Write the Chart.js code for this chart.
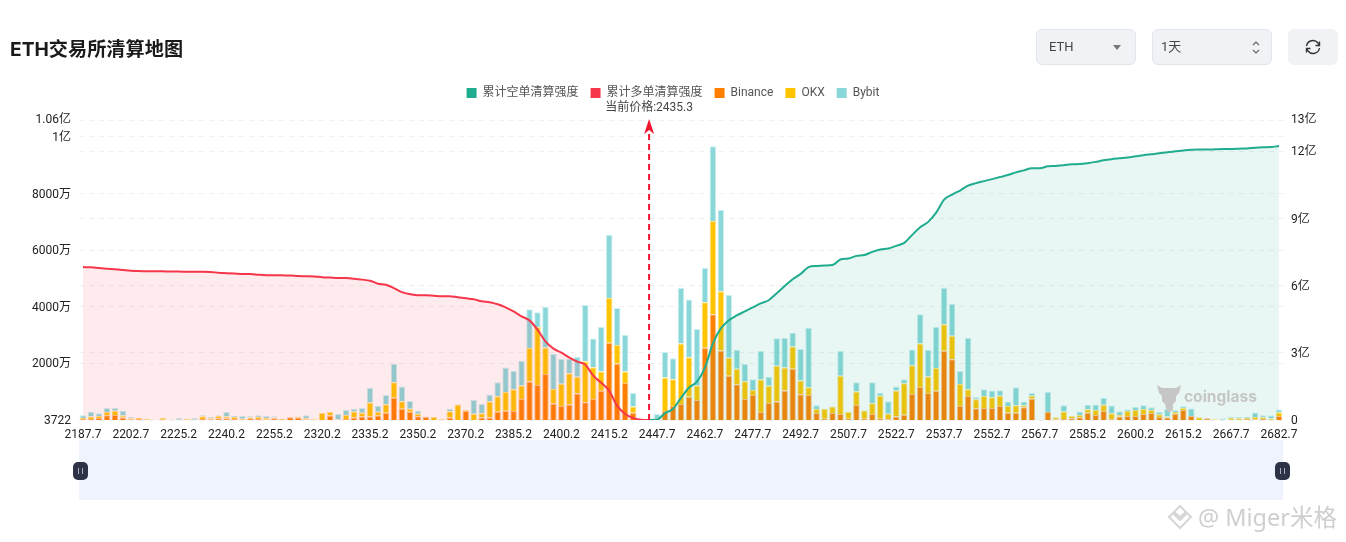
<!DOCTYPE html>
<html>
<head>
<meta charset="utf-8">
<title>ETH交易所清算地图</title>
<script src="https://cdn.jsdelivr.net/npm/chart.js@4/dist/chart.umd.min.js"></script>
<style>
  html, body { margin: 0; padding: 0; background: #fff; overflow: hidden; }
  body { width: 1346px; height: 542px; position: relative; font-family: Roboto, "Noto Sans CJK SC", sans-serif; }
  #wrap { position: absolute; left: 0; top: 0; width: 1346px; height: 542px; }
  h1 { position: absolute; left: 10px; top: 36px; margin: 0; font-size: 19.2px; line-height: 26px; font-weight: 700; color: #1a1a1a; font-family: Inter, "Noto Sans CJK SC", sans-serif; }
  .btn { position: absolute; top: 29px; height: 34px; background: #f0f2f5; border: 1px solid #dfe6ec; border-radius: 6px; font-size: 13px; line-height: 34px; color: #444; }
  .btn span { position: absolute; left: 12px; }
  .btn svg { position: absolute; }
  #slider { position: absolute; left: 79px; top: 440px; width: 1204px; height: 60px; background: #eef3fe; }
  .handle { position: absolute; top: 462px; width: 15px; height: 18px; background: #2d3247; border-radius: 5px; }
  .handle:after { content: ""; position: absolute; left: 5px; top: 6px; width: 1px; height: 6px; border-left: 1px solid #aab; border-right: 1px solid #aab; padding-left: 2px; }
  #cg { position: absolute; left: 1184px; top: 387px; font: 700 15.5px Inter, sans-serif; color: #c6c6c6; }
  #miger { position: absolute; left: 1198px; top: 502px; font-size: 23.5px; line-height: 30px; color: #cfcfcf; font-family: "Noto Sans", "Noto Sans CJK SC", sans-serif; white-space: nowrap; }
</style>
</head>
<body>
<div id="wrap"><canvas id="grafico" width="1346" height="542"></canvas></div>
<h1>ETH交易所清算地图</h1>

<div class="btn" style="left:1036px;width:98px"><span>ETH</span>
  <svg style="left:76px;top:15px" width="8" height="5"><path d="M0 0h8L4 5z" fill="#777"/></svg>
</div>
<div class="btn" style="left:1152px;width:118px"><span style="left:8px">1天</span>
  <svg style="left:98px;top:10px" width="10" height="15" fill="none" stroke="#666" stroke-width="1.2"><path d="M2 5l3-3 3 3M2 10l3 3 3-3"/></svg>
</div>
<div class="btn" style="left:1288px;width:48px;border-color:#f0f2f5">
  <svg style="left:16px;top:9px" width="16" height="16" viewBox="0 0 16 16" fill="none" stroke="#333" stroke-width="1.4"><path d="M1.5 7A6.5 6.5 0 0 1 13 4l1.5 2.5M14.5 9A6.5 6.5 0 0 1 3 12L1.5 9.500"/><path d="M14.500 2.500v4h-4M1.500 13.500v-4h4"/></svg>
</div>

<div id="slider"></div>
<div class="handle" style="left:73px"></div>
<div class="handle" style="left:1275px"></div>

<svg style="position:absolute;left:1156px;top:383px" width="26" height="30" viewBox="0 0 26 30" fill="#c6c6c6"><path d="M1 2l5 3h14l5-3-2 8-3 3v5l-3 3v6l-3 2h-3l-2-8-3-3V13L3 10z"/></svg>
<div id="cg">coinglass</div>

<svg style="position:absolute;left:1166px;top:504px" width="28" height="26" viewBox="0 0 28 26" fill="none" stroke="#d6d6d6" stroke-width="2"><path d="M14 2l6 6-6 5-6-5zM3 13l4-4 7 7 7-7 4 4-11 11z"/></svg>
<div id="miger">@ Miger米格</div>

<script>
// eixo x: um rotulo a cada 6 barras
const rotulosX = ['2187.7','2202.7','2225.2','2240.2','2255.2','2320.2','2335.2','2350.2','2370.2','2385.2','2400.2','2415.2','2447.7','2462.7','2477.7','2492.7','2507.7','2522.7','2537.7','2552.7','2567.7','2585.2','2600.2','2615.2','2667.7','2682.7'];
const totalBarras = 151;
const indicePreco = 71;
const precoAtual = '当前价格:2435.3';

// valores em 万
const binance = [35,35,70,165,175,85,25,35,10,0,10,0,0,10,0,35,25,60,60,35,10,45,35,10,60,0,95,85,25,0,0,155,10,35,85,120,120,155,260,790,400,295,130,105,0,0,85,0,320,0,85,85,295,330,320,745,1360,1240,1630,580,495,545,935,625,745,1030,2730,2000,1310,260,0,0,0,320,495,565,825,710,2555,3735,2460,1560,1265,745,885,285,605,650,1040,1810,910,885,250,45,250,215,45,530,45,215,45,25,120,190,920,1170,955,1030,2445,2150,495,850,415,425,425,495,260,260,450,755,0,285,25,35,60,95,260,175,320,25,120,140,140,215,250,105,85,225,355,140,0,60,0,0,10,0,35,25,35,10,140];
const okx = [35,85,70,120,155,70,35,35,35,10,70,0,10,35,10,95,35,85,60,70,35,45,70,60,25,35,10,35,35,25,250,130,10,140,215,140,495,140,295,545,260,105,95,10,105,25,225,545,25,225,155,565,545,660,770,475,1180,2045,935,520,790,1110,590,1455,1120,685,1585,650,400,215,0,0,60,1180,945,2140,1395,510,1610,3300,2090,640,545,625,175,1145,605,1265,815,790,485,270,140,355,225,1345,235,475,295,380,815,200,920,1110,1015,1535,580,805,935,825,780,235,320,425,380,365,235,260,70,105,10,0,70,270,85,85,120,175,215,215,60,175,215,175,105,95,35,60,70,0,95,0,25,10,70,60,35,85,60,45,130];
const bybit = [95,175,95,140,95,175,45,0,0,0,0,0,60,0,60,35,45,10,165,35,95,45,60,70,45,10,10,10,105,0,0,0,190,175,95,165,520,200,330,650,520,270,105,10,0,0,85,25,10,485,330,250,495,865,650,875,1370,520,1440,1230,875,510,710,1985,1015,1570,2235,1310,1300,485,0,0,155,900,745,1960,2035,2000,1205,2635,2870,2220,675,605,380,1005,320,970,1040,485,1110,2105,130,10,10,875,10,330,10,735,105,435,140,140,555,1030,945,1455,1290,1125,460,1820,70,235,235,190,155,640,130,95,0,710,0,215,0,120,155,200,250,270,130,60,105,130,95,85,270,60,60,270,0,0,0,45,35,45,35,155,70,105,105];

// valores em 亿; null onde a curva nao existe
const acumuladoLong = [6.83,6.82,6.79,6.76,6.73,6.70,6.67,6.65,6.64,6.64,6.64,6.63,6.63,6.62,6.62,6.62,6.61,6.58,6.56,6.54,6.52,6.52,6.49,6.47,6.47,6.46,6.45,6.43,6.42,6.41,6.38,6.36,6.34,6.34,6.31,6.27,6.22,6.09,6.04,5.89,5.71,5.62,5.57,5.57,5.55,5.53,5.53,5.48,5.44,5.39,5.30,5.26,5.17,5.03,4.85,4.63,4.45,4.04,3.51,3.19,3.01,2.79,2.61,2.47,1.98,1.66,1.30,0.63,0.27,0.09,0.01,0];
const acumuladoShort = [0,0.02,0.31,0.49,0.99,1.44,1.71,2.34,3.42,4.09,4.45,4.67,4.85,5.03,5.21,5.35,5.66,5.98,6.29,6.52,6.83,6.88,6.90,6.92,7.17,7.21,7.33,7.37,7.51,7.62,7.66,7.78,7.91,8.27,8.61,8.85,9.26,9.84,10.07,10.25,10.47,10.58,10.67,10.76,10.85,10.94,11.06,11.15,11.24,11.24,11.33,11.35,11.38,11.42,11.43,11.47,11.53,11.60,11.65,11.69,11.73,11.78,11.83,11.87,11.91,11.96,12.00,12.04,12.07,12.08,12.08,12.09,12.10,12.10,12.12,12.13,12.16,12.18,12.19,12.24];

// ticks dos dois eixos
const ticksEsq = [0.3722,2000,4000,6000,8000,10000,10600];
const rotulosEsq = ['3722','2000万','4000万','6000万','8000万','1亿','1.06亿'];
const ticksDir = [0,3,6,9,12,13.4];
const rotulosDir = ['0','3亿','6亿','9亿','12亿','13亿'];

const categorias = [];
for (let i = 0; i < totalBarras; i++) {
    categorias.push(i % 6 === 0 ? rotulosX[i / 6] : '');
}

// a curva de shorts so comeca no preco atual
const serieShort = new Array(indicePreco).fill(null).concat(acumuladoShort);

const fonteTexto = 'Roboto, "Noto Sans CJK SC", sans-serif';
const corSeta = '#f0142f';

// deixa espaco entre a legenda e o grafico para o texto do preco
const folgaLegenda = {
    id: 'folgaLegenda',
    beforeInit(chart) {
        const fitOriginal = chart.legend.fit;
        chart.legend.fit = function () {
            fitOriginal.bind(chart.legend)();
            this.height += 11;
        };
    }
};

// desce os rotulos dos eixos y, menos o do topo
const ajusteRotulos = {
    id: 'ajusteRotulos',
    beforeDraw(chart) {
        [chart.scales.yEsq, chart.scales.yDir].forEach(s => {
            const itens = s.getLabelItems();
            itens.forEach((it, i) => {
                if (i < itens.length - 1) {
                    it.options.translation = [it.options.translation[0], it.options.translation[1] + 1];
                }
            });
        });
    }
};

const setaPreco = {
    id: 'setaPreco',
    afterDatasetsDraw(chart) {
        const c = chart.ctx;
        const x = chart.scales.x.getPixelForValue(indicePreco);
        const base = chart.chartArea.bottom;
        const topo = chart.chartArea.top;
        c.save();
        c.strokeStyle = corSeta;
        c.lineWidth = 2;
        c.setLineDash([6, 4]);
        c.beginPath();
        c.moveTo(x, base);
        c.lineTo(x, topo + 10);
        c.stroke();
        c.setLineDash([]);
        c.fillStyle = corSeta;
        c.beginPath();
        c.moveTo(x, topo - 1);
        c.lineTo(x + 5, topo + 14);
        c.lineTo(x, topo + 10);
        c.lineTo(x - 5, topo + 14);
        c.closePath();
        c.fill();
        c.fillStyle = '#444';
        c.font = '12px ' + fonteTexto;
        c.textAlign = 'center';
        c.textBaseline = 'middle';
        c.fillText(precoAtual, x, topo - 12);
        c.restore();
    }
};

function montaGrafico() {
    const ctx = document.getElementById('grafico');
    new Chart(ctx, {
        type: 'bar',
        plugins: [folgaLegenda, ajusteRotulos, setaPreco],
        data: {
            labels: categorias,
            datasets: [
                { type: 'line', label: '累计空单清算强度', data: serieShort, yAxisID: 'yDir', borderColor: '#20ac8e', backgroundColor: 'rgba(32,172,142,0.1)', borderWidth: 2, pointRadius: 0, fill: 'origin', cubicInterpolationMode: 'monotone', order: 1 },
                { type: 'line', label: '累计多单清算强度', data: acumuladoLong, yAxisID: 'yDir', borderColor: '#f6364a', backgroundColor: 'rgba(246,54,74,0.1)', borderWidth: 2, pointRadius: 0, fill: 'origin', cubicInterpolationMode: 'monotone', order: 1 },
                { label: 'Binance', data: binance, yAxisID: 'yEsq', backgroundColor: '#ff8000', borderColor: 'rgba(255,190,130,0.9)', borderWidth: 1, order: 2 },
                { label: 'OKX', data: okx, yAxisID: 'yEsq', backgroundColor: '#ffc400', borderColor: 'rgba(255,225,130,0.9)', borderWidth: 1, order: 2 },
                { label: 'Bybit', data: bybit, yAxisID: 'yEsq', backgroundColor: '#8ad7da', borderColor: 'rgba(200,236,238,0.9)', borderWidth: 1, order: 2 }
            ]
        },
        options: {
            responsive: false,
            animation: false,
            devicePixelRatio: 1,
            barPercentage: 0.82,
            categoryPercentage: 1,
            layout: { padding: { top: 75, left: 0, right: 0, bottom: 0 } },
            plugins: {
                tooltip: { enabled: false },
                legend: {
                    position: 'top',
                    labels: {
                        boxWidth: 10,
                        boxHeight: 10,
                        padding: 12,
                        color: '#555',
                        font: { size: 12, family: fonteTexto },
                        generateLabels(chart) {
                            return Chart.defaults.plugins.legend.labels.generateLabels(chart).map((it, i) => {
                                it.fillStyle = i < 2 ? chart.data.datasets[i].borderColor : it.fillStyle;
                                it.strokeStyle = 'transparent';
                                it.lineWidth = 0;
                                return it;
                            });
                        }
                    }
                }
            },
            scales: {
                x: {
                    stacked: true,
                    border: { display: false },
                    grid: { display: false },
                    afterFit(s) { s.height = 122; },
                    ticks: { autoSkip: false, maxRotation: 0, padding: 0, color: '#222', font: { size: 12, family: fonteTexto } }
                },
                yEsq: {
                    position: 'left',
                    stacked: true,
                    min: 0.3722,
                    max: 10600,
                    border: { display: false, dash: [5, 5] },
                    grid: { color: '#efefef', drawTicks: false },
                    afterFit(s) { s.width = 79; },
                    afterBuildTicks(s) { s.ticks = ticksEsq.map(v => ({ value: v })); },
                    ticks: {
                        padding: 8,
                        color: '#222',
                        font: { size: 12, family: fonteTexto },
                        callback(v) { return rotulosEsq[ticksEsq.indexOf(v)]; }
                    }
                },
                yDir: {
                    position: 'right',
                    min: 0,
                    max: 13.4,
                    border: { display: false, dash: [5, 5] },
                    grid: { color: '#efefef', drawTicks: false },
                    afterFit(s) { s.width = 63; },
                    afterBuildTicks(s) { s.ticks = ticksDir.map(v => ({ value: v })); },
                    ticks: {
                        padding: 8,
                        color: '#222',
                        font: { size: 12, family: fonteTexto },
                        callback(v) { return rotulosDir[ticksDir.indexOf(v)]; }
                    }
                }
            }
        }
    });
}

montaGrafico();
</script>
</body>
</html>
